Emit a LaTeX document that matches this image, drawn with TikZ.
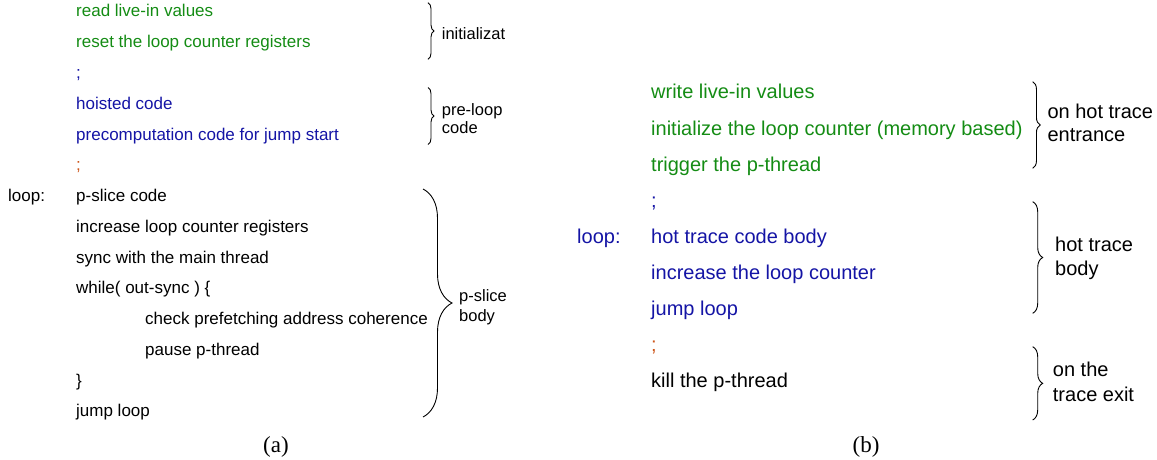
\documentclass[tikz,border=0pt]{standalone}
\usepackage{fontspec}
\setmainfont{Liberation Serif}
\newfontfamily\codefont{Liberation Sans}
\usetikzlibrary{decorations.pathreplacing}

\definecolor{initgreen}{RGB}{20,140,20}
\definecolor{codeblue}{RGB}{20,20,165}
\definecolor{sepbrown}{RGB}{205,85,25}

\tikzset{
  codeA/.style={anchor=base west, inner sep=0pt, font=\codefont\fontsize{17}{20}\selectfont},
  codeB/.style={anchor=base west, inner sep=0pt, font=\codefont\fontsize{20}{24}\selectfont},
  noteA/.style={anchor=base west, inner sep=0pt, font=\codefont\fontsize{16.5}{19}\selectfont},
  noteB/.style={anchor=base west, inner sep=0pt, font=\codefont\fontsize{20}{24}\selectfont},
  caption/.style={anchor=base, inner sep=0pt, font=\fontsize{23}{27}\selectfont},
  bracebox/.style={decorate, line width=0.9pt, decoration={brace, amplitude=#1}},
}

\begin{document}
\begin{tikzpicture}[x=1pt, y=-1pt]
\useasboundingbox (0,0) rectangle (1157,460);

% ---------- (a) p-thread code ----------
\def\lb#1{17+30.75*#1}
\node[codeA, initgreen] (a0) at (76,{\lb{0}}) {read live-in values};
\node[codeA, initgreen] (a1) at (76,{\lb{1}}) {reset the loop counter registers};
\node[codeA, codeblue]  (a2) at (76,{\lb{2}}) {;};
\node[codeA, codeblue]  (a3) at (76,{\lb{3}}) {hoisted code};
\node[codeA, codeblue]  (a4) at (76,{\lb{4}}) {precomputation code for jump start};
\node[codeA, sepbrown]  (a5) at (76,{\lb{5}}) {;};
\node[codeA] (aloop) at (8,{\lb{6}}) {loop:};
\node[codeA] (a6)  at (76,{\lb{6}}) {p-slice code};
\node[codeA] (a7)  at (76,{\lb{7}}) {increase loop counter registers};
\node[codeA] (a8)  at (76,{\lb{8}}) {sync with the main thread};
\node[codeA] (a9)  at (76,{\lb{9}}) {while( out-sync ) \{};
\node[codeA] (a10) at (145,{\lb{10}}) {check prefetching address coherence};
\node[codeA] (a11) at (145,{\lb{11}}) {pause p-thread};
\node[codeA] (a12) at (76,{\lb{12}}) {\}};
\node[codeA] (a13) at (76,{\lb{13}}) {jump loop};

% braces of (a)
\coordinate (bi1) at (428,2.7);   \coordinate (bi2) at (428,59.3);
\coordinate (bp1) at (428,87.5);  \coordinate (bp2) at (428,144.5);
\coordinate (bs1) at (423,189);   \coordinate (bs2) at (423,417);
\draw[bracebox=6pt]  (bi1) -- (bi2);
\draw[bracebox=6pt]  (bp1) -- (bp2);
\draw[bracebox=29pt] (bs1) -- (bs2);
\node[noteA] (ni)  at (441.7,39.3) {initializat};
\node[noteA] (np1) at (441.7,115)  {pre-loop};
\node[noteA] (np2) at (441.7,133.3) {code};
\node[noteA] (ns1) at (459,301) {p-slice};
\node[noteA] (ns2) at (459,321) {body};

\node[caption] (capa) at (276,452) {(a)};

% ---------- (b) main thread code ----------
\def\rb#1{99+36*#1}
\node[codeB, initgreen] (b0) at (651,{\rb{0}}) {write live-in values};
\node[codeB, initgreen] (b1) at (651,{\rb{1}}) {initialize the loop counter (memory based)};
\node[codeB, initgreen] (b2) at (651,{\rb{2}}) {trigger the p-thread};
\node[codeB, codeblue]  (b3) at (651,{\rb{3}}) {;};
\node[codeB, codeblue]  (bloop) at (577,{\rb{4}}) {loop:};
\node[codeB, codeblue]  (b4) at (651,{\rb{4}}) {hot trace code body};
\node[codeB, codeblue]  (b5) at (651,{\rb{5}}) {increase the loop counter};
\node[codeB, codeblue]  (b6) at (651,{\rb{6}}) {jump loop};
\node[codeB, sepbrown]  (b7) at (651,{\rb{7}}) {;};
\node[codeB] (b8) at (651,{\rb{8}}) {kill the p-thread};

% braces of (b)
\coordinate (be1) at (1032.7,81.7);  \coordinate (be2) at (1032.7,168.3);
\coordinate (bh1) at (1032.7,201.7); \coordinate (bh2) at (1032.7,313.3);
\coordinate (bx1) at (1032.7,346.7); \coordinate (bx2) at (1032.7,420);
\draw[bracebox=7.5pt] (be1) -- (be2);
\draw[bracebox=10pt]  (bh1) -- (bh2);
\draw[bracebox=10pt]  (bx1) -- (bx2);
\node[noteB] (ne1) at (1047.3,118.3) {on hot trace};
\node[noteB] (ne2) at (1047.3,141.7) {entrance};
\node[noteB] (nh1) at (1055,251.7) {hot trace};
\node[noteB] (nh2) at (1055,275) {body};
\node[noteB] (nx1) at (1052.7,376.7) {on the};
\node[noteB] (nx2) at (1052.7,401) {trace exit};

\node[caption] (capb) at (866,452) {(b)};
\end{tikzpicture}
\end{document}
